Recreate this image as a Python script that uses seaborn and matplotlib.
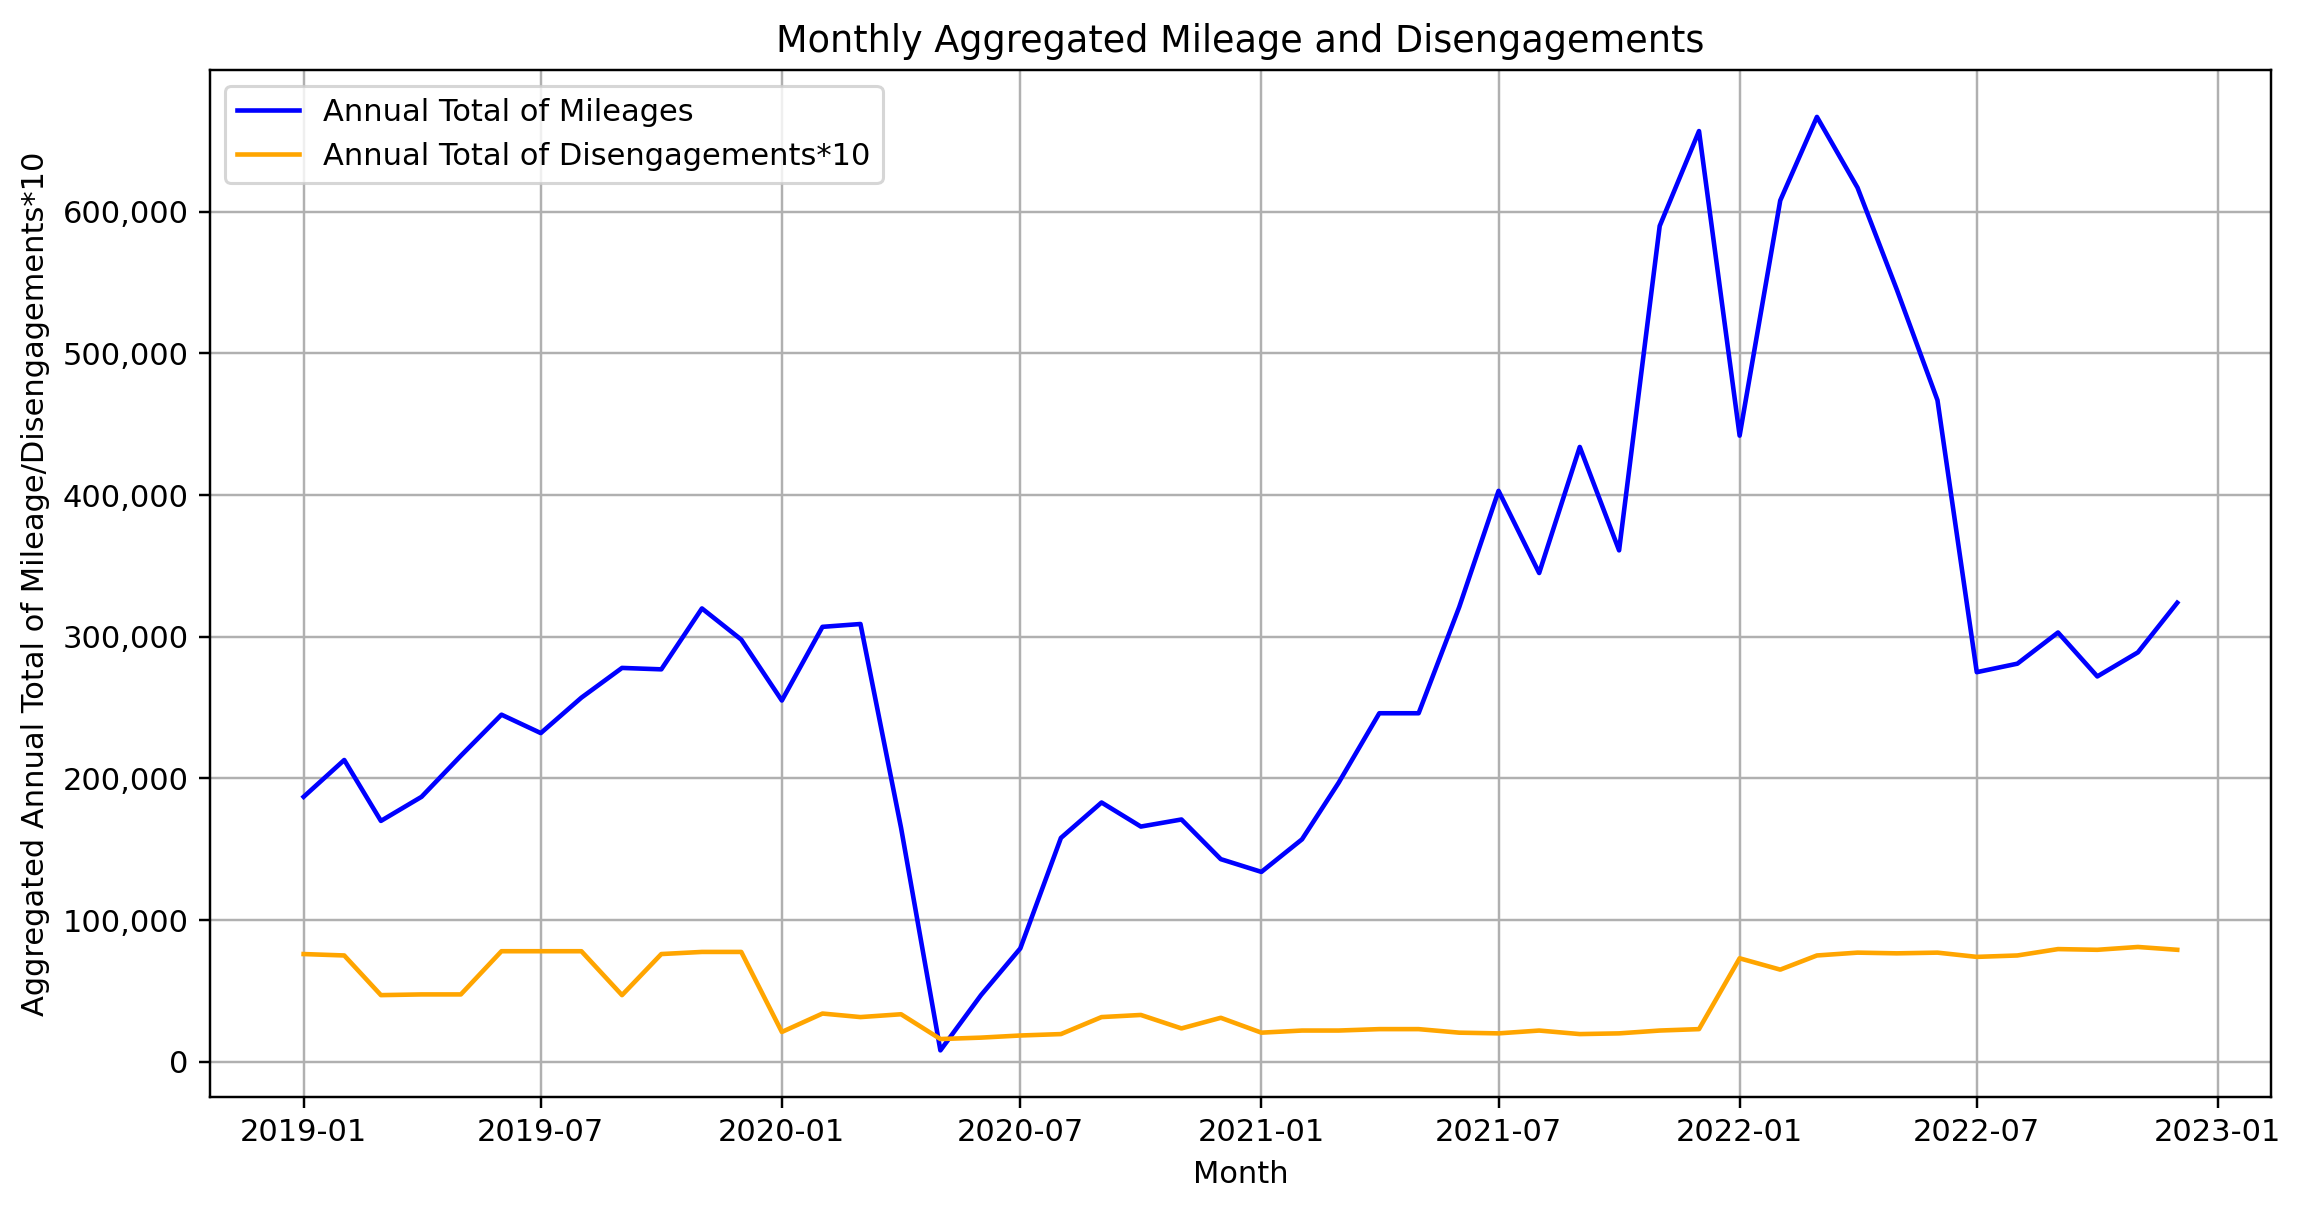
import numpy as np
import pandas as pd
import matplotlib
matplotlib.use("Agg")
import matplotlib.pyplot as plt
import matplotlib.dates as mdates
from matplotlib.ticker import FuncFormatter
import seaborn as sns

months = pd.date_range("2019-01-01", "2022-12-01", freq="MS")

mileage = [
    187000, 213000, 170000, 187000, 216000, 245000, 232000, 257000, 278000, 277000, 320000, 298000,
    255000, 307000, 309000, 165000, 8000, 47000, 80000, 158000, 183000, 166000, 171000, 143000,
    134000, 157000, 197000, 246000, 246000, 321000, 403000, 345000, 434000, 361000, 590000, 657000,
    442000, 608000, 667000, 617000, 545000, 467000, 275000, 281000, 303000, 272000, 289000, 324000,
]

disengagements_x10 = [
    76000, 75000, 47000, 47500, 47500, 78000, 78000, 78000, 47000, 76000, 77500, 77500,
    21000, 34000, 31500, 33500, 16000, 17000, 18500, 19500, 31500, 33000, 23500, 31000,
    20500, 22000, 22000, 23000, 23000, 20500, 20000, 22000, 19500, 20000, 22000, 23000,
    73000, 65000, 75000, 77000, 76500, 77000, 74000, 75000, 79500, 79000, 81000, 79000,
]

df = pd.DataFrame({"Month": months, "Mileage": mileage, "Disengagements": disengagements_x10})

DPI = 220
fig = plt.figure(figsize=(2302 / DPI, 1211 / DPI), dpi=DPI)
ax = fig.add_axes([0.0912, 0.0941, 0.8953, 0.8479])

sns.lineplot(data=df, x="Month", y="Mileage", ax=ax, color="blue",
             label="Annual Total of Mileages", linewidth=1.5)
sns.lineplot(data=df, x="Month", y="Disengagements", ax=ax, color="orange",
             label="Annual Total of Disengagements*10", linewidth=1.5)

ax.set_title("Monthly Aggregated Mileage and Disengagements", fontsize=12)
ax.set_xlabel("Month")
ax.set_ylabel("Aggregated Annual Total of Mileage/Disengagements*10")
ax.yaxis.set_major_formatter(FuncFormatter(lambda v, p: f"{int(v):,}"))
ax.xaxis.set_major_locator(mdates.MonthLocator(bymonth=[1, 7]))
ax.xaxis.set_major_formatter(mdates.DateFormatter("%Y-%m"))
ax.grid(True, color="#b0b0b0", linewidth=0.8)
ax.legend(loc="upper left")

fig.savefig("out.png", dpi=DPI)
